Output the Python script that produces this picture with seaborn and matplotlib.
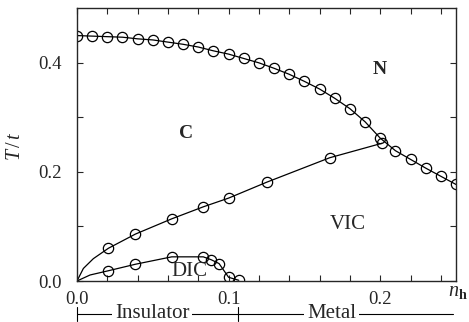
import numpy as np
import pandas as pd
import matplotlib
matplotlib.use("Agg")
import matplotlib.pyplot as plt
import matplotlib.transforms as mtransforms
import seaborn as sns

# ---- data ----
# N / C boundary (upper curve)
upper_x = [0.00, 0.01, 0.02, 0.03, 0.04, 0.05, 0.06, 0.07, 0.08, 0.09, 0.10, 0.11, 0.12,
           0.13, 0.14, 0.15, 0.16, 0.17, 0.18, 0.19, 0.20, 0.21, 0.22, 0.23, 0.24, 0.25]
upper_T = [0.450, 0.449, 0.448, 0.447, 0.444, 0.442, 0.438, 0.434, 0.429, 0.422, 0.416, 0.408, 0.400,
           0.390, 0.379, 0.366, 0.352, 0.335, 0.316, 0.292, 0.262, 0.239, 0.223, 0.207, 0.192, 0.177]

# C / VIC boundary (middle curve): markers and smooth line
mid_x = [0.0207, 0.0385, 0.0625, 0.0833, 0.100, 0.125, 0.1667, 0.201]
mid_T = [0.060, 0.086, 0.114, 0.136, 0.152, 0.181, 0.226, 0.2524]
mid_line_x = [0.0, 0.0042, 0.0108] + mid_x
mid_line_T = [0.0, 0.023, 0.041] + mid_T

# DIC boundary (lower curve)
low_x = [0.0207, 0.0385, 0.0625, 0.0833, 0.0885, 0.0937, 0.100, 0.1067]
low_T = [0.0188, 0.0307, 0.0443, 0.0443, 0.039, 0.032, 0.0068, 0.0013]
low_line_x = [0.0, 0.0086] + low_x
low_line_T = [0.0, 0.011] + low_T

# regions
region_labels = ["N", "C", "VIC", "DIC"]
region_x = [0.1999, 0.072, 0.1784, 0.0742]
region_T = [0.388, 0.271, 0.104, 0.018]
region_bold = [True, True, False, False]

# insulator / metal bracket
regime_labels = ["Insulator", "Metal"]
regime_centers = [0.0495, 0.168]
regime_bounds = [0.0, 0.106, 0.248]

# ---- style ----
sns.set_style("ticks")
plt.rcParams["font.family"] = ["Liberation Serif", "DejaVu Serif"]
plt.rcParams["mathtext.fontset"] = "custom"
plt.rcParams["mathtext.rm"] = "Liberation Serif"
plt.rcParams["mathtext.it"] = "Liberation Serif:italic"
plt.rcParams["mathtext.bf"] = "Liberation Serif:bold"

fig = plt.figure(figsize=(4.69, 3.22), dpi=100)
ax = fig.add_axes([77 / 469, 41 / 322, 379 / 469, 272.7 / 322])

lw = 0.9
ms = 7.4

df_up = pd.DataFrame({"x": upper_x, "T": upper_T})
df_mid_line = pd.DataFrame({"x": mid_line_x, "T": mid_line_T})
df_mid = pd.DataFrame({"x": mid_x, "T": mid_T})
df_low_line = pd.DataFrame({"x": low_line_x, "T": low_line_T})
df_low = pd.DataFrame({"x": low_x, "T": low_T})

for d in (df_up, df_mid_line, df_low_line):
    sns.lineplot(data=d, x="x", y="T", ax=ax, color="black", linewidth=lw,
                 sort=False, estimator=None)

for d in (df_up, df_mid, df_low):
    ax.plot(d["x"], d["T"], linestyle="none", marker="o", markersize=ms,
            markerfacecolor="none", markeredgecolor="black", markeredgewidth=0.9)

ax.set_xlim(0, 0.25)
ax.set_ylim(0, 0.5)
ax.set_xticks([0.0, 0.1, 0.2])
ax.set_xticklabels(["0.0", "0.1", "0.2"])
ax.set_xticks(np.arange(0, 0.2501, 0.02), minor=True)
ax.set_yticks([0.0, 0.2, 0.4])
ax.set_yticklabels(["0.0", "0.2", "0.4"])
ax.set_yticks([0.1, 0.3], minor=True)
ax.tick_params(which="both", direction="in", top=True, right=True,
               length=4, width=0.8, labelsize=13.5)
ax.tick_params(axis="x", pad=7)
ax.tick_params(axis="y", pad=11)
for s in ax.spines.values():
    s.set_linewidth(1.0)
    s.set_visible(True)

ax.set_xlabel("")
ax.set_ylabel(r"$T\,/\,t$", fontsize=14.5)
ax.yaxis.set_label_coords(-0.137, 0.495)

# n_h at right end of the x axis
ax.text(1.005, -0.04, r"$n_{\mathbf{h}}$", transform=ax.transAxes,
        fontsize=14.5, ha="center", va="center", clip_on=False)

for lab, x, t, b in zip(region_labels, region_x, region_T, region_bold):
    ax.text(x, t, lab, fontsize=14 if b else 15, fontweight="bold" if b else "normal",
            ha="center", va="center")

# bracket below the axis
trans = mtransforms.blended_transform_factory(ax.transData, ax.transAxes)
yb = -0.121
ax.plot([regime_bounds[0], regime_bounds[-1]], [yb, yb], transform=trans,
        color="black", linewidth=0.8, clip_on=False)
for b in regime_bounds[:-1]:
    ax.plot([b, b], [yb - 0.026, yb + 0.026], transform=trans,
            color="black", linewidth=0.8, clip_on=False)
for lab, c in zip(regime_labels, regime_centers):
    ax.text(c, yb, lab, transform=trans, fontsize=15, ha="center", va="center",
            bbox=dict(facecolor="white", edgecolor="none", pad=2.0), clip_on=False)

fig.savefig("out.png", dpi=100)
